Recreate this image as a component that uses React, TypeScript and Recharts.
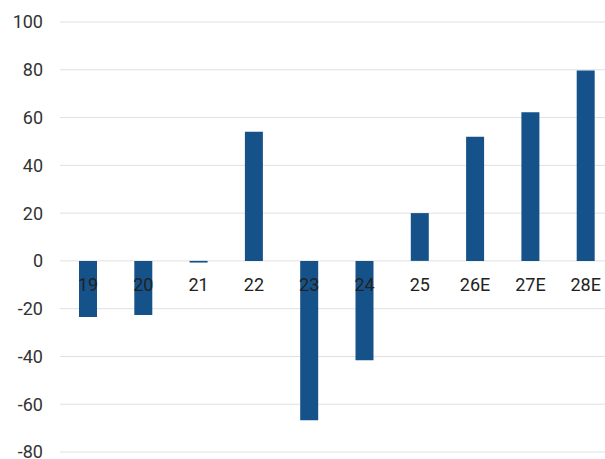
import React from 'react';
import { BarChart, Bar, XAxis, YAxis, CartesianGrid, LabelList } from 'recharts';

const years = ['19', '20', '21', '22', '23', '24', '25', '26E', '27E', '28E'];
const values = [-23.5, -22.6, -0.7, 54.1, -66.7, -41.6, 20, 52, 62.2, 79.7];
const yTicks = [-80, -60, -40, -20, 0, 20, 40, 60, 80, 100];

const data = years.map((name, i) => ({ name, value: values[i] }));

// category label drawn just below the zero line of each bar
const ZeroLabel = (props: any) => {
  const { x, y, width, height, index } = props;
  const v = values[index];
  const top = Math.min(y, y + height);
  const bottom = Math.max(y, y + height);
  const zeroY = v >= 0 ? bottom : top;
  return (
    <text x={x + width / 2} y={zeroY + 30} textAnchor="middle" fill="#222" fontSize={18}>
      {years[index]}
    </text>
  );
};

const App = () => {
  return (
    <div style={{ position: 'absolute', left: 0, top: 0, width: 605, height: 459, overflow: 'hidden', fontFamily: 'Roboto, sans-serif' }}>
      <BarChart width={613} height={459} data={data} margin={{ top: 22, right: 0, left: 0, bottom: 7 }}>
        <CartesianGrid vertical={false} stroke="#e0e0e0" strokeWidth={1} />
        <XAxis dataKey="name" hide />
        <YAxis
          domain={[-80, 100]}
          ticks={yTicks}
          interval={0}
          width={60}
          axisLine={false}
          tickLine={false}
          tickMargin={11}
          tick={{ fill: '#333', fontSize: 18 }}
        />
        <Bar dataKey="value" fill="#16528a" barSize={18} isAnimationActive={false}>
          <LabelList dataKey="name" content={ZeroLabel} />
        </Bar>
      </BarChart>
    </div>
  );
};

export default App;
